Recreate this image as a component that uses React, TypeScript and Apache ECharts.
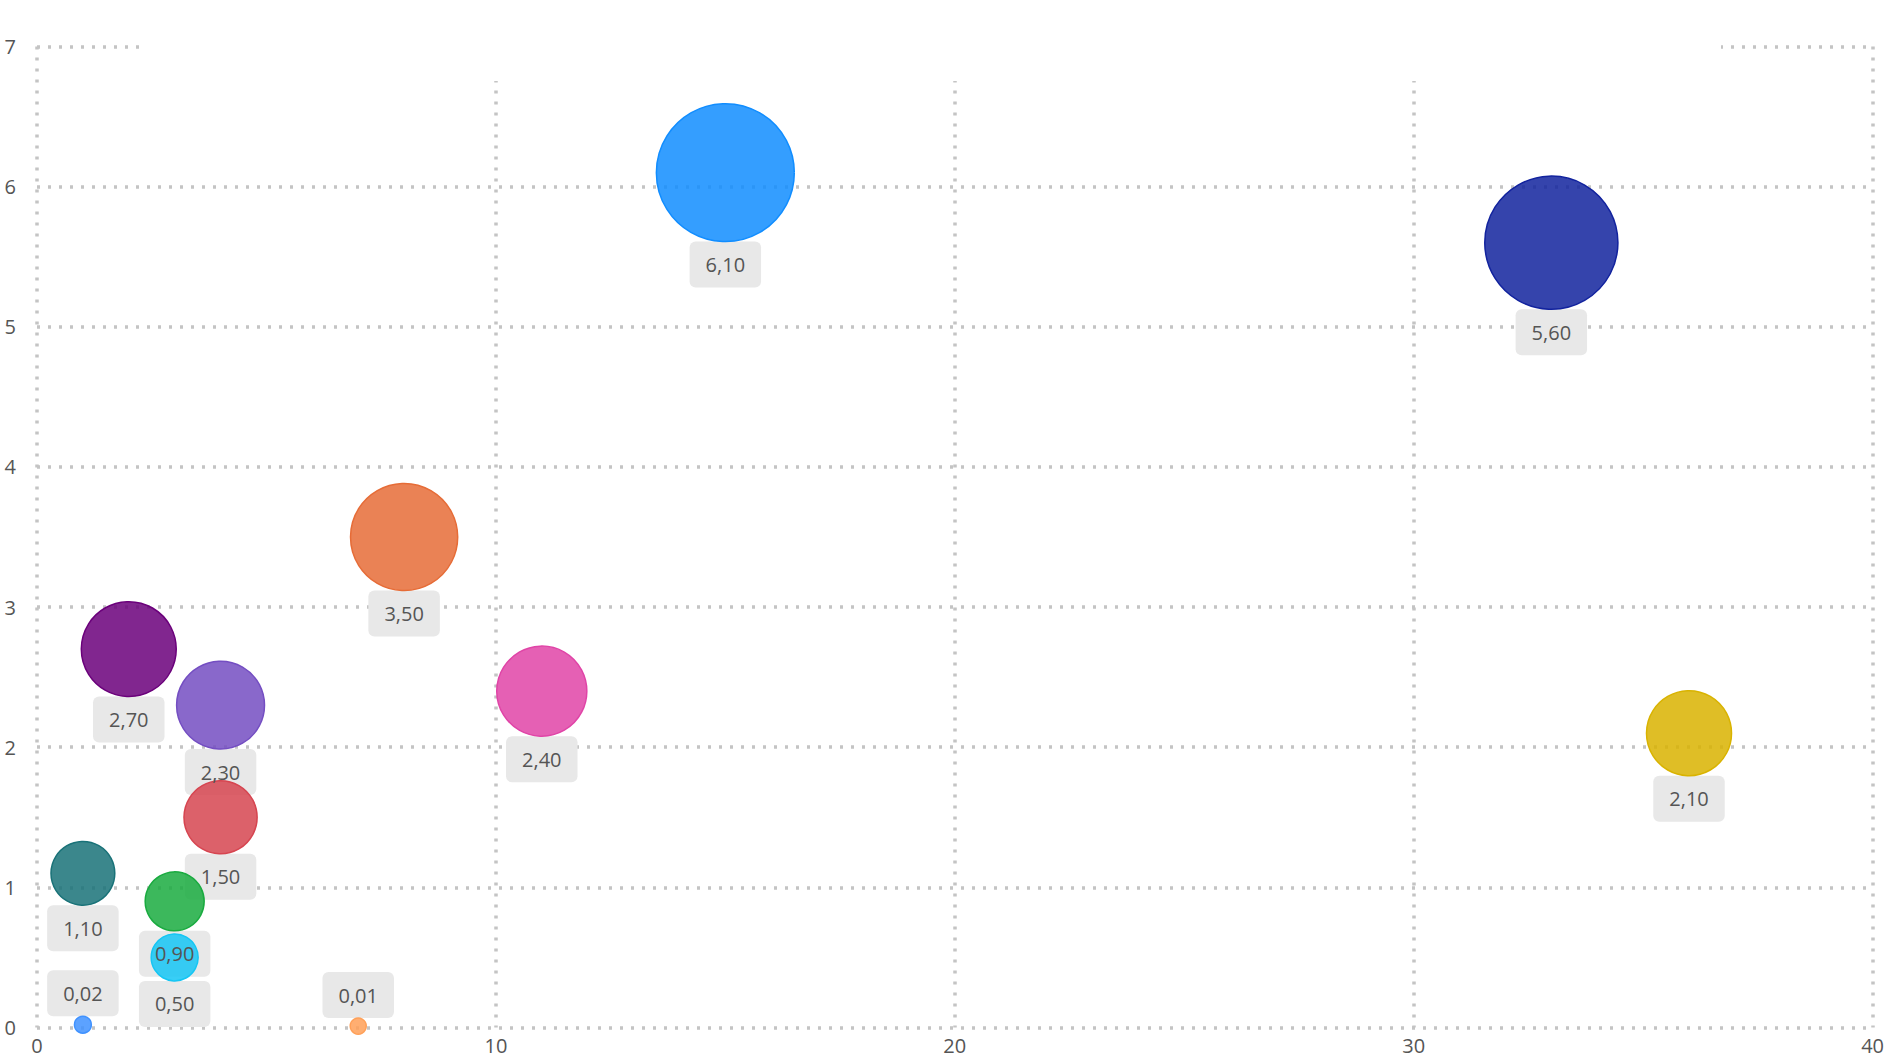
import React, { useEffect, useRef } from "react";
import * as echarts from "echarts";

// Bubble data: x position, y value (also the label), bubble size measure, colour
const xValues = [15, 33, 8, 2, 11, 4, 36, 4, 1, 3, 3, 1, 7];
const yValues = [6.1, 5.6, 3.5, 2.7, 2.4, 2.3, 2.1, 1.5, 1.1, 0.9, 0.5, 0.02, 0.01];
const sizeValues = [193, 180, 117, 92, 83, 79, 74, 55, 42, 36, 23, 3.2, 2.9];
const colors = [
  "#118DFF", "#12239E", "#E66C37", "#6B007B", "#E044A7", "#744EC2", "#D9B300",
  "#D64550", "#197278", "#1AAB40", "#15C6F4", "#4092FF", "#FFA058",
];

const xMin = 0;
const xMax = 40;
const xStep = 10;
const yMin = 0;
const yMax = 7;
const yStep = 1;

const FONT = "'Segoe UI', 'Open Sans', sans-serif";
const GRID_COLOR = "#c4c4c4";
const TEXT_COLOR = "#555555";

function hexToRgba(hex: string, a: number) {
  const n = parseInt(hex.slice(1), 16);
  return `rgba(${(n >> 16) & 255},${(n >> 8) & 255},${n & 255},${a})`;
}

const bubbleDiameter = (v: number[]) => Math.sqrt(v[2]) * 10 - 1;
const fmt = (v: number) => v.toFixed(2).replace(".", ",");

export default function App() {
  const ref = useRef<HTMLDivElement>(null);

  useEffect(() => {
    if (!ref.current) return;
    const chart = echarts.init(ref.current, undefined, { renderer: "svg" });

    const points = xValues.map((x, i) => [x, yValues[i], sizeValues[i]]);
    // bubbles resting on the baseline carry their label above them
    const labelPos = (y: number) => (y < 0.1 ? "top" : "bottom");

    const baseLabel = {
      show: true,
      distance: 0,
      fontFamily: FONT,
      fontSize: 20,
      lineHeight: 20,
      padding: [13, 16],
      formatter: (p: any) => fmt(p.value[1]),
    };

    const boxData = points.map((v) => ({
      value: v,
      label: { position: labelPos(v[1]) },
    }));

    const splitLine = {
      show: true,
      lineStyle: { color: GRID_COLOR, width: 3.5, type: [3, 8] },
    };

    const axisLabel = {
      color: TEXT_COLOR,
      fontFamily: FONT,
      fontSize: 20,
      lineHeight: 20,
    };

    chart.setOption({
      animation: false,
      grid: { left: 37, right: 14, top: 46.5, bottom: 30.5 },
      xAxis: {
        type: "value",
        min: xMin,
        max: xMax,
        interval: xStep,
        axisLine: { show: false },
        axisTick: { show: false },
        splitLine,
        axisLabel: { ...axisLabel, margin: 8 },
      },
      yAxis: {
        type: "value",
        min: yMin,
        max: yMax,
        interval: yStep,
        axisLine: { show: false },
        axisTick: { show: false },
        splitLine,
        axisLabel: { ...axisLabel, margin: 21 },
      },
      graphic: [
        {
          type: "rect",
          z: 1,
          silent: true,
          shape: { x: 141, y: 36, width: 1580, height: 45 },
          style: { fill: "#ffffff" },
        },
      ],
      series: [
        {
          // label plates, beneath the bubbles
          type: "scatter",
          z: 1,
          silent: true,
          symbolSize: bubbleDiameter,
          itemStyle: { color: "rgba(0,0,0,0)", opacity: 1 },
          label: {
            ...baseLabel,
            color: "rgba(0,0,0,0)",
            backgroundColor: "#e8e8e8",
            borderRadius: 6,
          },
          data: boxData,
        },
        {
          type: "scatter",
          z: 2,
          silent: true,
          symbolSize: bubbleDiameter,
          itemStyle: { opacity: 1 },
          data: points.map((v, i) => ({
            value: v,
            itemStyle: {
              color: hexToRgba(colors[i], 0.85),
              borderColor: colors[i],
              borderWidth: 1.5,
              opacity: 1,
            },
          })),
        },
        {
          // label texts, above everything
          type: "scatter",
          z: 3,
          silent: true,
          symbolSize: bubbleDiameter,
          itemStyle: { color: "rgba(0,0,0,0)", opacity: 1 },
          label: { ...baseLabel, color: TEXT_COLOR },
          data: boxData,
        },
      ],
    });

    return () => chart.dispose();
  }, []);

  return (
    <div
      ref={ref}
      style={{ position: "fixed", left: 0, top: 0, width: 1887, height: 1058, background: "#fff" }}
    />
  );
}
